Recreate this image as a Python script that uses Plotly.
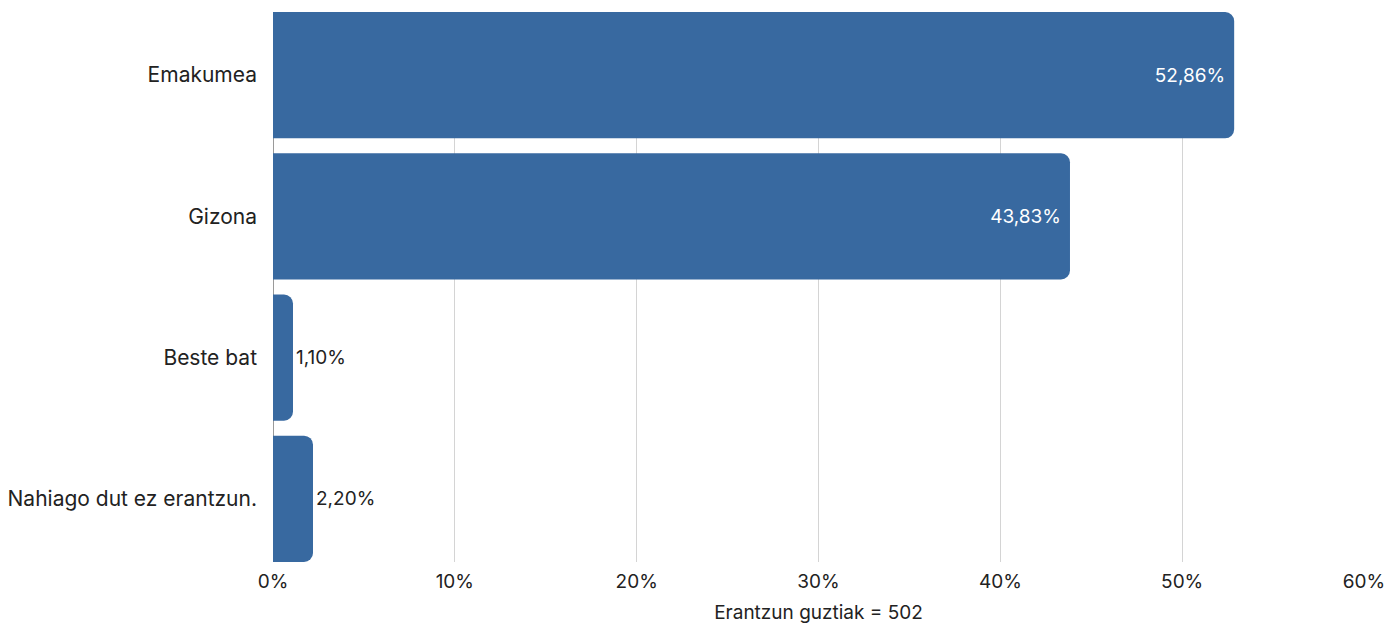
import plotly.graph_objects as go

categories = ["Emakumea", "Gizona", "Beste bat", "Nahiago dut ez erantzun."]
values = [52.86, 43.83, 1.10, 2.20]
x_ticks = [0, 10, 20, 30, 40, 50, 60]
x_tick_labels = ["0%", "10%", "20%", "30%", "40%", "50%", "60%"]
x_title = "Erantzun guztiak = 502"

FONT = "Inter, Lato, sans-serif"
gap = 0.106
half = (1 - gap) / 2
positions = ["inside" if v > 10 else "outside" for v in values]

fig = go.Figure(go.Bar(
    y=categories, x=values, orientation="h",
    marker=dict(color="#3869a0", line=dict(width=0)),
    texttemplate="%{x:.2f}%", textposition=positions, textangle=0,
    insidetextanchor="end",
    insidetextfont=dict(color="white", size=19, family=FONT),
    outsidetextfont=dict(color="#222222", size=19, family=FONT),
    cliponaxis=False,
))

fig.update_layout(
    width=1389, height=627,
    margin=dict(l=273, r=25, t=12, b=65, autoexpand=False),
    paper_bgcolor="white", plot_bgcolor="white",
    separators=",.",
    bargap=gap, barcornerradius=9,
    font=dict(family=FONT, size=19, color="#222222"),
    showlegend=False,
    xaxis=dict(
        range=[0, 60], tickvals=x_ticks, ticktext=x_tick_labels,
        showgrid=True, gridcolor="#d4d4d4", gridwidth=1,
        zeroline=True, zerolinecolor="#9a9a9a", zerolinewidth=1,
        showline=False, ticks="", tickfont=dict(size=19),
        ticklabelstandoff=6,
        title=dict(text=x_title, font=dict(size=19), standoff=13),
        automargin=False, fixedrange=True,
    ),
    yaxis=dict(
        categoryorder="array", categoryarray=categories,
        range=[len(categories) - 1 + half, -half],
        showgrid=False, ticks="", tickfont=dict(size=21),
        ticklabelstandoff=15, automargin=False, fixedrange=True,
    ),
)

fig.write_html("out.html", config={"displayModeBar": False},
               post_script="document.body.style.margin='0px';")
